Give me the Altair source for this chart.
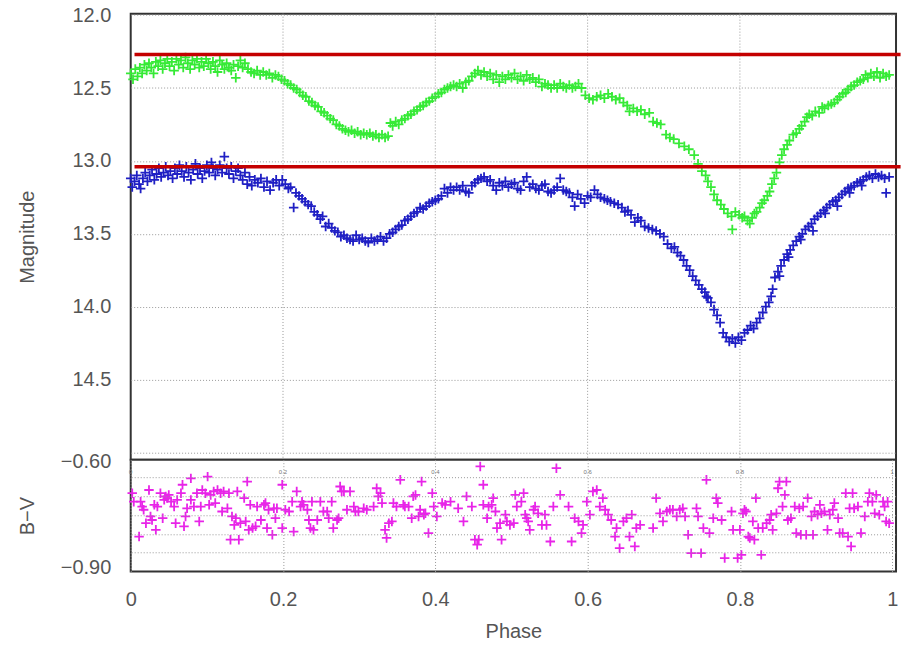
import altair as alt
import pandas as pd

# ---------------- data ----------------
green = [
(0.000,12.40),(0.003,12.44),(0.006,12.37),(0.009,12.42),(0.012,12.36),(0.015,12.40),(0.018,12.34),(0.021,12.38),
(0.024,12.33),(0.027,12.36),(0.030,12.40),(0.033,12.32),(0.036,12.35),(0.039,12.31),(0.042,12.37),(0.045,12.33),
(0.048,12.30),(0.051,12.35),(0.054,12.32),(0.057,12.38),(0.060,12.30),(0.063,12.34),(0.066,12.31),(0.069,12.36),
(0.072,12.29),(0.075,12.33),(0.078,12.37),(0.081,12.31),(0.084,12.34),(0.087,12.30),(0.090,12.36),(0.093,12.32),
(0.096,12.35),(0.099,12.30),(0.102,12.33),(0.105,12.37),(0.108,12.32),(0.111,12.35),(0.114,12.39),(0.117,12.31),
(0.120,12.34),(0.123,12.37),(0.126,12.33),(0.129,12.36),(0.132,12.38),(0.135,12.34),(0.138,12.43),(0.141,12.35),
(0.144,12.31),(0.147,12.36),(0.150,12.33),(0.154,12.37),(0.158,12.39),(0.162,12.40),(0.166,12.38),(0.170,12.41),
(0.174,12.39),(0.178,12.41),(0.182,12.40),(0.186,12.43),(0.190,12.41),(0.194,12.42),(0.198,12.44),(0.202,12.45),
(0.206,12.47),(0.210,12.48),(0.214,12.50),(0.218,12.51),(0.222,12.53),(0.226,12.55),(0.230,12.56),(0.234,12.59),
(0.238,12.60),(0.242,12.62),(0.246,12.63),(0.250,12.66),(0.254,12.67),(0.258,12.69),(0.262,12.71),(0.266,12.72),
(0.270,12.75),(0.274,12.76),(0.278,12.78),(0.282,12.79),(0.286,12.80),(0.290,12.79),(0.294,12.81),(0.298,12.80),
(0.302,12.82),(0.306,12.81),(0.310,12.82),(0.314,12.81),(0.318,12.83),(0.322,12.82),(0.326,12.84),(0.330,12.82),
(0.334,12.84),(0.338,12.83),(0.341,12.74),(0.344,12.76),(0.348,12.73),(0.352,12.75),(0.356,12.72),(0.360,12.71),
(0.364,12.69),(0.368,12.68),(0.372,12.66),(0.376,12.65),(0.380,12.63),(0.384,12.62),(0.388,12.60),(0.392,12.59),
(0.396,12.57),(0.400,12.56),(0.404,12.54),(0.408,12.53),(0.412,12.51),(0.416,12.50),(0.420,12.49),(0.424,12.48),
(0.428,12.49),(0.432,12.47),(0.436,12.50),(0.440,12.46),(0.444,12.45),(0.448,12.42),(0.452,12.40),(0.456,12.38),
(0.460,12.41),(0.464,12.39),(0.468,12.42),(0.472,12.40),(0.476,12.44),(0.480,12.41),(0.484,12.46),(0.488,12.42),
(0.492,12.44),(0.496,12.41),(0.500,12.43),(0.504,12.40),(0.508,12.44),(0.512,12.42),(0.516,12.45),(0.520,12.41),
(0.524,12.44),(0.528,12.43),(0.532,12.46),(0.536,12.44),(0.540,12.49),(0.544,12.47),(0.548,12.48),(0.552,12.50),
(0.556,12.48),(0.560,12.50),(0.564,12.47),(0.568,12.49),(0.572,12.50),(0.576,12.48),(0.580,12.50),(0.584,12.49),
(0.588,12.47),(0.592,12.50),(0.597,12.55),(0.602,12.57),(0.607,12.58),(0.612,12.56),(0.617,12.55),(0.622,12.57),
(0.627,12.54),(0.632,12.56),(0.637,12.58),(0.642,12.57),(0.647,12.60),(0.652,12.62),(0.655,12.66),(0.660,12.64),
(0.665,12.66),(0.670,12.65),(0.675,12.68),(0.681,12.67),(0.686,12.73),(0.691,12.74),(0.696,12.75),(0.703,12.82),
(0.708,12.84),(0.713,12.85),(0.720,12.88),(0.727,12.90),(0.733,12.92),(0.740,12.96),(0.745,13.02),(0.750,13.07),
(0.755,13.10),(0.758,13.14),(0.762,13.18),(0.766,13.23),(0.770,13.27),(0.775,13.30),(0.779,13.33),(0.784,13.36),
(0.789,13.38),(0.790,13.47),(0.794,13.35),(0.799,13.37),(0.803,13.39),(0.806,13.38),(0.810,13.41),(0.813,13.43),
(0.816,13.39),(0.819,13.36),(0.822,13.35),(0.826,13.32),(0.829,13.29),(0.832,13.27),(0.836,13.24),(0.839,13.21),
(0.842,13.16),(0.845,13.12),(0.848,13.08),(0.852,13.01),(0.855,12.96),(0.858,12.92),(0.862,12.89),(0.865,12.86),
(0.870,12.82),(0.874,12.81),(0.878,12.78),(0.881,12.76),(0.885,12.73),(0.888,12.70),(0.891,12.68),(0.895,12.69),
(0.899,12.66),(0.904,12.67),(0.908,12.63),(0.911,12.64),(0.916,12.62),(0.920,12.61),(0.924,12.60),(0.928,12.58),
(0.931,12.56),(0.935,12.54),(0.939,12.53),(0.942,12.51),(0.946,12.49),(0.950,12.48),(0.954,12.46),(0.958,12.45),
(0.962,12.44),(0.965,12.41),(0.968,12.43),(0.972,12.40),(0.976,12.42),(0.980,12.39),(0.984,12.43),(0.988,12.40),
(0.992,12.42),(0.996,12.41),
]

blue = [
(0.000,13.12),(0.002,13.18),(0.005,13.14),(0.008,13.10),(0.011,13.16),(0.013,13.19),(0.016,13.12),(0.019,13.08),
(0.022,13.14),(0.025,13.10),(0.028,13.06),(0.031,13.13),(0.034,13.09),(0.037,13.05),(0.040,13.11),(0.043,13.08),
(0.046,13.04),(0.049,13.10),(0.052,13.07),(0.055,13.12),(0.058,13.05),(0.061,13.09),(0.064,13.03),(0.067,13.07),
(0.070,13.11),(0.073,13.04),(0.076,13.08),(0.079,13.13),(0.082,13.06),(0.085,13.02),(0.088,13.09),(0.091,13.05),
(0.094,13.12),(0.097,13.07),(0.100,13.03),(0.103,13.08),(0.106,13.01),(0.108,13.05),(0.111,13.10),(0.114,13.06),
(0.117,13.03),(0.120,13.08),(0.123,12.97),(0.126,13.05),(0.129,13.09),(0.132,13.04),(0.135,13.12),(0.138,13.07),
(0.141,13.05),(0.144,13.10),(0.147,13.13),(0.150,13.08),(0.153,13.16),(0.156,13.11),(0.159,13.17),(0.163,13.13),
(0.167,13.15),(0.171,13.12),(0.175,13.18),(0.179,13.14),(0.183,13.20),(0.187,13.15),(0.191,13.13),(0.195,13.17),
(0.199,13.13),(0.203,13.16),(0.207,13.19),(0.210,13.18),(0.214,13.32),(0.217,13.22),(0.221,13.24),(0.225,13.26),
(0.229,13.28),(0.233,13.30),(0.237,13.31),(0.241,13.35),(0.245,13.37),(0.249,13.40),(0.252,13.38),(0.256,13.45),
(0.260,13.43),(0.264,13.46),(0.268,13.48),(0.272,13.49),(0.276,13.52),(0.280,13.51),(0.284,13.53),(0.288,13.54),
(0.292,13.55),(0.296,13.51),(0.300,13.54),(0.304,13.53),(0.308,13.55),(0.312,13.56),(0.316,13.53),(0.320,13.55),
(0.324,13.54),(0.328,13.52),(0.332,13.55),(0.336,13.53),(0.340,13.50),(0.344,13.49),(0.348,13.47),(0.352,13.45),
(0.356,13.44),(0.360,13.41),(0.364,13.40),(0.368,13.38),(0.372,13.36),(0.376,13.35),(0.380,13.32),(0.384,13.33),
(0.388,13.31),(0.392,13.29),(0.396,13.28),(0.400,13.27),(0.404,13.26),(0.408,13.24),(0.412,13.19),(0.416,13.22),
(0.420,13.18),(0.424,13.20),(0.428,13.18),(0.432,13.20),(0.436,13.17),(0.440,13.21),(0.444,13.22),(0.448,13.17),
(0.452,13.15),(0.456,13.13),(0.460,13.12),(0.464,13.11),(0.468,13.14),(0.472,13.13),(0.476,13.17),(0.480,13.20),
(0.484,13.15),(0.488,13.17),(0.492,13.14),(0.496,13.18),(0.500,13.16),(0.504,13.15),(0.508,13.19),(0.512,13.20),
(0.516,13.14),(0.520,13.11),(0.524,13.18),(0.528,13.16),(0.532,13.19),(0.536,13.20),(0.540,13.17),(0.544,13.16),
(0.548,13.21),(0.552,13.22),(0.556,13.20),(0.560,13.18),(0.564,13.12),(0.568,13.20),(0.572,13.21),(0.576,13.22),
(0.580,13.25),(0.583,13.31),(0.587,13.23),(0.591,13.26),(0.596,13.29),(0.600,13.24),(0.604,13.25),(0.609,13.20),
(0.613,13.23),(0.617,13.25),(0.622,13.26),(0.626,13.27),(0.630,13.28),(0.635,13.29),(0.640,13.30),(0.645,13.32),
(0.649,13.35),(0.653,13.34),(0.657,13.37),(0.662,13.42),(0.666,13.39),(0.670,13.41),(0.675,13.45),(0.680,13.46),
(0.685,13.47),(0.690,13.48),(0.695,13.50),(0.700,13.52),(0.705,13.57),(0.710,13.60),(0.714,13.59),(0.718,13.63),
(0.722,13.65),(0.726,13.68),(0.730,13.72),(0.734,13.75),(0.738,13.79),(0.742,13.82),(0.746,13.85),(0.750,13.88),
(0.754,13.90),(0.756,13.93),(0.758,13.94),(0.762,13.97),(0.766,14.02),(0.770,14.06),(0.774,14.11),(0.778,14.18),
(0.782,14.21),(0.786,14.24),(0.790,14.22),(0.794,14.25),(0.798,14.21),(0.802,14.23),(0.806,14.18),(0.810,14.16),
(0.814,14.13),(0.818,14.15),(0.822,14.11),(0.826,14.08),(0.830,14.04),(0.834,14.00),(0.838,13.97),(0.841,13.93),
(0.843,13.88),(0.846,13.80),(0.850,13.76),(0.852,13.79),(0.854,13.72),(0.858,13.68),(0.862,13.64),(0.864,13.66),
(0.866,13.61),(0.870,13.58),(0.874,13.55),(0.878,13.52),(0.880,13.54),(0.882,13.50),(0.886,13.47),(0.890,13.45),
(0.894,13.43),(0.896,13.48),(0.898,13.40),(0.902,13.38),(0.906,13.36),(0.910,13.34),(0.912,13.36),(0.914,13.32),
(0.918,13.30),(0.922,13.28),(0.926,13.27),(0.928,13.31),(0.930,13.25),(0.934,13.23),(0.938,13.21),(0.942,13.19),
(0.944,13.22),(0.946,13.18),(0.950,13.17),(0.954,13.15),(0.958,13.14),(0.960,13.17),(0.962,13.13),(0.966,13.11),
(0.970,13.10),(0.974,13.12),(0.978,13.09),(0.982,13.11),(0.986,13.10),(0.990,13.12),(0.992,13.22),(0.996,13.11),
]

bv = [
(0.002,-0.689),(0.004,-0.713),(0.011,-0.812),(0.013,-0.713),(0.015,-0.727),(0.017,-0.736),(0.020,-0.774),(0.024,-0.680),
(0.026,-0.755),(0.028,-0.765),(0.031,-0.722),(0.033,-0.793),(0.035,-0.727),(0.039,-0.689),(0.042,-0.760),(0.044,-0.708),
(0.046,-0.698),(0.048,-0.703),(0.050,-0.694),(0.053,-0.713),(0.057,-0.727),(0.059,-0.774),(0.061,-0.708),(0.066,-0.689),
(0.068,-0.665),(0.070,-0.783),(0.072,-0.755),(0.074,-0.732),(0.079,-0.647),(0.079,-0.708),(0.083,-0.727),(0.087,-0.689),
(0.090,-0.769),(0.092,-0.727),(0.094,-0.680),(0.098,-0.689),(0.101,-0.642),(0.103,-0.722),(0.105,-0.694),(0.109,-0.684),
(0.111,-0.717),(0.114,-0.680),(0.118,-0.689),(0.120,-0.741),(0.122,-0.684),(0.127,-0.732),(0.129,-0.689),(0.131,-0.821),
(0.133,-0.755),(0.136,-0.779),(0.138,-0.760),(0.140,-0.684),(0.142,-0.821),(0.144,-0.774),(0.149,-0.703),(0.151,-0.769),
(0.153,-0.656),(0.155,-0.793),(0.157,-0.722),(0.160,-0.788),(0.164,-0.783),(0.166,-0.727),(0.171,-0.765),(0.175,-0.722),
(0.177,-0.717),(0.179,-0.788),(0.181,-0.736),(0.186,-0.807),(0.188,-0.732),(0.190,-0.760),(0.192,-0.732),(0.199,-0.665),
(0.199,-0.788),(0.203,-0.736),(0.208,-0.741),(0.212,-0.713),(0.214,-0.798),(0.218,-0.684),(0.223,-0.727),(0.225,-0.713),
(0.227,-0.722),(0.232,-0.736),(0.234,-0.765),(0.236,-0.788),(0.238,-0.713),(0.240,-0.793),(0.245,-0.765),(0.249,-0.713),
(0.253,-0.741),(0.258,-0.741),(0.260,-0.760),(0.264,-0.713),(0.266,-0.788),(0.271,-0.765),(0.273,-0.760),(0.275,-0.670),
(0.277,-0.684),(0.280,-0.684),(0.284,-0.736),(0.288,-0.684),(0.293,-0.727),(0.295,-0.741),(0.299,-0.741),(0.306,-0.732),
(0.310,-0.736),(0.319,-0.727),(0.323,-0.675),(0.325,-0.698),(0.328,-0.689),(0.330,-0.717),(0.334,-0.793),(0.336,-0.816),
(0.339,-0.774),(0.343,-0.769),(0.345,-0.717),(0.349,-0.727),(0.354,-0.651),(0.358,-0.722),(0.360,-0.727),(0.365,-0.727),
(0.369,-0.760),(0.371,-0.698),(0.374,-0.694),(0.378,-0.755),(0.380,-0.736),(0.382,-0.656),(0.385,-0.750),(0.387,-0.746),
(0.391,-0.802),(0.396,-0.689),(0.398,-0.727),(0.402,-0.755),(0.409,-0.717),(0.413,-0.722),(0.420,-0.713),(0.430,-0.732),
(0.437,-0.769),(0.441,-0.698),(0.448,-0.727),(0.452,-0.821),(0.455,-0.835),(0.457,-0.821),(0.459,-0.613),(0.463,-0.665),
(0.463,-0.722),(0.468,-0.760),(0.470,-0.727),(0.474,-0.722),(0.476,-0.703),(0.479,-0.741),(0.481,-0.788),(0.485,-0.774),
(0.487,-0.821),(0.492,-0.750),(0.494,-0.769),(0.498,-0.779),(0.503,-0.774),(0.505,-0.694),(0.507,-0.727),(0.513,-0.713),
(0.516,-0.689),(0.518,-0.750),(0.520,-0.760),(0.522,-0.769),(0.524,-0.793),(0.529,-0.736),(0.531,-0.727),(0.535,-0.746),
(0.540,-0.779),(0.544,-0.750),(0.546,-0.779),(0.551,-0.826),(0.555,-0.727),(0.559,-0.618),(0.564,-0.694),(0.575,-0.727),
(0.579,-0.826),(0.583,-0.760),(0.588,-0.769),(0.592,-0.802),(0.594,-0.779),(0.599,-0.713),(0.603,-0.750),(0.607,-0.684),
(0.612,-0.680),(0.616,-0.727),(0.620,-0.703),(0.623,-0.736),(0.627,-0.750),(0.631,-0.765),(0.636,-0.812),(0.638,-0.788),
(0.642,-0.845),(0.647,-0.769),(0.651,-0.760),(0.655,-0.812),(0.658,-0.750),(0.662,-0.840),(0.664,-0.788),(0.669,-0.779),
(0.686,-0.788),(0.690,-0.703),(0.695,-0.746),(0.699,-0.769),(0.704,-0.741),(0.708,-0.736),(0.712,-0.736),(0.717,-0.755),
(0.721,-0.736),(0.725,-0.732),(0.728,-0.755),(0.732,-0.807),(0.736,-0.859),(0.743,-0.732),(0.745,-0.755),(0.749,-0.859),
(0.752,-0.788),(0.756,-0.651),(0.760,-0.802),(0.765,-0.760),(0.769,-0.703),(0.771,-0.717),(0.776,-0.765),(0.780,-0.873),
(0.789,-0.741),(0.791,-0.793),(0.797,-0.873),(0.800,-0.793),(0.802,-0.864),(0.804,-0.746),(0.806,-0.736),(0.808,-0.741),
(0.811,-0.812),(0.813,-0.816),(0.817,-0.769),(0.819,-0.821),(0.821,-0.703),(0.824,-0.788),(0.828,-0.864),(0.830,-0.788),
(0.835,-0.774),(0.839,-0.765),(0.841,-0.750),(0.843,-0.793),(0.848,-0.746),(0.850,-0.675),(0.852,-0.656),(0.856,-0.727),
(0.859,-0.694),(0.861,-0.656),(0.863,-0.765),(0.867,-0.760),(0.872,-0.727),(0.874,-0.802),(0.878,-0.732),(0.880,-0.807),
(0.883,-0.727),(0.887,-0.807),(0.889,-0.703),(0.894,-0.755),(0.896,-0.807),(0.898,-0.741),(0.902,-0.750),(0.905,-0.722),
(0.907,-0.746),(0.911,-0.741),(0.915,-0.793),(0.918,-0.750),(0.922,-0.736),(0.924,-0.717),(0.929,-0.760),(0.931,-0.802),
(0.935,-0.802),(0.939,-0.689),(0.942,-0.812),(0.944,-0.732),(0.946,-0.840),(0.948,-0.689),(0.950,-0.732),(0.955,-0.727),
(0.959,-0.802),(0.964,-0.755),(0.968,-0.713),(0.970,-0.689),(0.974,-0.713),(0.977,-0.746),(0.979,-0.694),(0.983,-0.750),
(0.988,-0.713),(0.990,-0.727),(0.992,-0.769),(0.994,-0.713),(0.996,-0.774),
]

ref_mags = [12.27, 13.04]
mag_ticks = [12.0, 12.5, 13.0, 13.5, 14.0, 14.5, 15.0]
bv_ticks = [-0.60, -0.70, -0.80, -0.90]
bv_grid = [-0.645, -0.699, -0.753, -0.807, -0.858]
phase_ticks = [0, 0.2, 0.4, 0.6, 0.8, 1.0]
phase_grid = [0.2, 0.4, 0.6, 0.8]
inner_label_pos = [0.0, 0.2, 0.4, 0.6, 0.8, 1.0]
inner_label_txt = ["0", "0.2", "0.4", "0.6", "0.8", "1"]

# ---------------- chart ----------------
FONT = "Liberation Sans"
TXT = "#555555"
GRID = "#999999"
CROSS = "M-1,0L1,0M0,-1L0,1"
W = 767
FRAME = alt.ViewBackground(stroke="#333333", strokeWidth=2, fill="white")

df_g = pd.DataFrame(green, columns=["phase", "mag"])
df_b = pd.DataFrame(blue, columns=["phase", "mag"])
df_bv = pd.DataFrame(bv, columns=["phase", "bv"])
df_ref = pd.DataFrame({"mag": ref_mags})
df_grid = pd.DataFrame({"bv": bv_grid})
df_vgrid = pd.DataFrame({"phase": phase_grid})
df_inner = pd.DataFrame({"phase": inner_label_pos, "txt": inner_label_txt})

xscale = alt.Scale(domain=[0, 1.005], nice=False, zero=False)
yscale_top = alt.Scale(domain=[11.99, 15.05], reverse=True, nice=False, zero=False)
yscale_bot = alt.Scale(domain=[-0.911, -0.594], nice=False, zero=False)

common_y_axis = dict(ticks=False, domain=False, labelPadding=20, labelFontSize=20,
                     labelColor=TXT, labelFont=FONT, titleFontSize=20, titleFont=FONT,
                     titleFontWeight="normal", titleColor=TXT, minExtent=62, maxExtent=62,
                     titlePadding=31)

x_top = alt.X("phase:Q", scale=xscale, axis=None)
y_top = alt.Y("mag:Q", scale=yscale_top,
              axis=alt.Axis(values=mag_ticks, title="Magnitude", grid=True, gridDash=[1, 2],
                            gridColor=GRID,
                            labelExpr="datum.value > 14.9 ? '' : format(datum.value, '.1f')",
                            **common_y_axis))

vgrid_top = alt.Chart(df_vgrid).mark_rule(color=GRID, strokeDash=[1, 2], strokeWidth=1).encode(
    x=alt.X("phase:Q", scale=xscale, axis=None))
pts_g = alt.Chart(df_g).mark_point(shape=CROSS, size=90, color="#36ea36", strokeWidth=1.8,
                                   opacity=1).encode(x=x_top, y=y_top)
pts_b = alt.Chart(df_b).mark_point(shape=CROSS, size=90, color="#1f1fc4", strokeWidth=1.8,
                                   opacity=1).encode(x="phase:Q", y="mag:Q")
refs = alt.Chart(df_ref).mark_rule(color="#c40000", strokeWidth=3.5).encode(
    y="mag:Q", x=alt.datum(0.005), x2=alt.datum(1.011))

top = alt.layer(pts_g, vgrid_top, pts_b, refs).properties(width=W, height=447, view=FRAME)

x_bot = alt.X("phase:Q", scale=xscale,
              axis=alt.Axis(values=phase_ticks, format="~g", ticks=False, domain=False,
                            labelFlush=False,
                            labelPadding=18, labelFontSize=20, labelColor=TXT, labelFont=FONT,
                            title="Phase", titleFontSize=20, titleFont=FONT,
                            titleFontWeight="normal", titleColor=TXT, titlePadding=12,
                            grid=True, gridDash=[1, 2], gridColor=GRID))
y_bot = alt.Y("bv:Q", scale=yscale_bot,
              axis=alt.Axis(values=bv_ticks, format=".2f", title="B\u2212V", grid=False,
                            **common_y_axis))

grid_b = alt.Chart(df_grid).mark_rule(color=GRID, strokeDash=[1, 2], strokeWidth=1).encode(
    y=alt.Y("bv:Q", scale=yscale_bot))
pts_m = alt.Chart(df_bv).mark_point(shape=CROSS, size=90, color="#e824e8", strokeWidth=1.8,
                                    opacity=1).encode(x=x_bot, y=y_bot)
inner = alt.Chart(df_inner).mark_text(fontSize=6, color="#777777", font=FONT, dy=-6).encode(
    x="phase:Q", y=alt.datum(-0.645), text="txt:N")

bottom = alt.layer(pts_m, grid_b, inner).properties(width=W, height=112, view=FRAME)

chart = alt.vconcat(top, bottom, spacing=0, bounds="flush").properties(
    padding={"left": 17, "top": 3, "right": 0, "bottom": 5}
).configure(background="white")

chart.save("out.html", embed_options={"renderer": "svg", "actions": False})
